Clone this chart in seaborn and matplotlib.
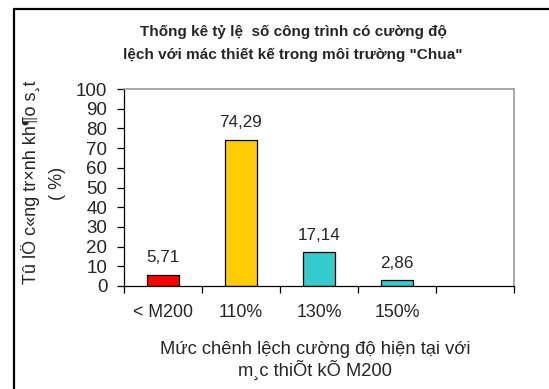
import numpy as np
import pandas as pd
import seaborn as sns
import matplotlib
matplotlib.use("Agg")
import matplotlib.pyplot as plt
from matplotlib.lines import Line2D

categories = ["< M200", "110%", "130%", "150%"]
percentages = [5.71, 74.29, 17.14, 2.86]
bar_colors = ["#FF0000", "#FFCC00", "#33CCCC", "#33CCCC"]
y_ticks = [0, 10, 20, 30, 40, 50, 60, 70, 80, 90, 100]

title_lines = ["Thống kê tỷ lệ  số công trình có cường độ",
               "lệch với mác thiết kế trong môi trường \"Chua\""]
ylabel_lines = ["Tû lÖ c«ng tr×nh kh¶o s¸t", "( %)"]
xlabel_lines = ["Mức chênh lệch cường độ hiện tại với", "m¸c thiÕt kÕ M200"]

sns.set_theme(style="white")
plt.rcParams["font.family"] = ["Liberation Sans", "DejaVu Sans"]

W, H = 549, 389
fig = plt.figure(figsize=(W / 100, H / 100), dpi=100)
fig.patch.set_facecolor("white")

def px(x, y):
    return x / W, 1 - y / H

ax = fig.add_axes([124 / W, 1 - 286 / H, (514 - 124) / W, (286 - 89) / H])

df = pd.DataFrame({"cat": categories, "pct": percentages})
sns.barplot(data=df, x="cat", y="pct", hue="cat", palette=bar_colors,
            order=categories, hue_order=categories, legend=False,
            width=0.42, edgecolor="black", linewidth=0.9, saturation=1, ax=ax)

# one empty slot to the right of the last bar
ax.set_xlim(-0.5, len(categories) + 0.5)
ax.set_ylim(0, 100)
ax.set_yticks(y_ticks)
ax.set_yticklabels([str(t) for t in y_ticks], fontsize=13.5)
ax.set_xticks(range(len(categories)))
ax.set_xticklabels(categories, fontsize=12.8)
ax.set_xticks(np.arange(-0.5, len(categories) + 1, 1.0), minor=True)
ax.tick_params(axis="x", which="major", length=0, pad=13)
ax.tick_params(axis="x", which="minor", length=5, width=0.9, color="black",
               direction="out", bottom=True)
ax.tick_params(axis="y", which="major", length=5, width=0.9, color="black",
               direction="out", left=True, pad=7)
ax.set_xlabel("")
ax.set_ylabel("")

for side in ["left", "bottom"]:
    ax.spines[side].set_color("black")
    ax.spines[side].set_linewidth(0.9)
for side in ["top", "right"]:
    ax.spines[side].set_color("#999999")
    ax.spines[side].set_linewidth(1.2)

for i, v in enumerate(percentages):
    ax.annotate(f"{v:.2f}".replace(".", ","), (i, v), xytext=(0, 7),
                textcoords="offset points", ha="center", va="bottom",
                fontsize=12.3)

# titles and axis labels
fig.text(*px(293, 32), title_lines[0], ha="center", va="center",
         fontsize=11, fontweight="bold")
fig.text(*px(293, 55), title_lines[1], ha="center", va="center",
         fontsize=11, fontweight="bold")
fig.text(*px(30, 182), ylabel_lines[0], ha="center", va="center",
         rotation=90, fontsize=13)
fig.text(*px(57, 183), ylabel_lines[1], ha="center", va="center",
         rotation=90, fontsize=13)
fig.text(*px(315, 349), xlabel_lines[0], ha="center", va="center", fontsize=13.2)
fig.text(*px(315, 370), xlabel_lines[1], ha="center", va="center", fontsize=13.2)

# outer frame (left and top edges)
fig.add_artist(Line2D([13.5 / W, 13.5 / W], [0, 1 - 8.5 / H],
                      transform=fig.transFigure, color="black", lw=1.6))
fig.add_artist(Line2D([13.5 / W, 1], [1 - 8.5 / H, 1 - 8.5 / H],
                      transform=fig.transFigure, color="black", lw=1.6))

fig.savefig("out.png", dpi=100)
